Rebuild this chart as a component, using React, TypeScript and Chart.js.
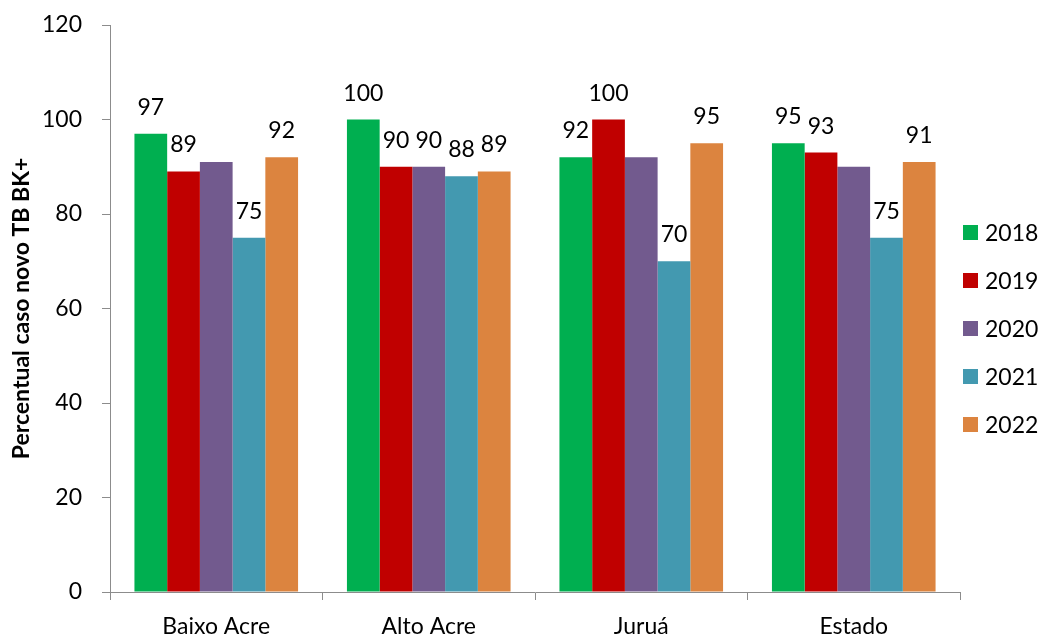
import React, { useEffect, useRef } from "react";
import { Chart, registerables } from "chart.js";

Chart.register(...registerables);

// Regions and years
const categories = ["Baixo Acre", "Alto Acre", "Juruá", "Estado"];
const years = ["2018", "2019", "2020", "2021", "2022"];

// Percentual de casos novos TB BK+ por ano
const values2018 = [97, 100, 92, 95];
const values2019 = [89, 90, 100, 93];
const values2020 = [91, 90, 92, 90];
const values2021 = [75, 88, 70, 75];
const values2022 = [92, 89, 95, 91];

// Which bars carry a value label
const labels2018 = [true, true, true, true];
const labels2019 = [true, true, true, true];
const labels2020 = [false, true, false, false];
const labels2021 = [true, true, true, true];
const labels2022 = [true, true, true, true];

const yTicks = [0, 20, 40, 60, 80, 100, 120];

const seriesValues = [values2018, values2019, values2020, values2021, values2022];
const seriesLabels = [labels2018, labels2019, labels2020, labels2021, labels2022];
const seriesColors = ["#00AF50", "#C00000", "#725A8E", "#4399B0", "#DC843F"];

const FONT = "Lato, 'Open Sans', sans-serif";

const valueLabels = {
  id: "valueLabels",
  afterDatasetsDraw(chart: any) {
    const ctx = chart.ctx;
    ctx.save();
    ctx.font = `23px ${FONT}`;
    ctx.fillStyle = "#000";
    ctx.textAlign = "center";
    ctx.textBaseline = "alphabetic";
    chart.data.datasets.forEach((ds: any, di: number) => {
      const meta = chart.getDatasetMeta(di);
      meta.data.forEach((bar: any, i: number) => {
        if (!seriesLabels[di][i]) return;
        ctx.fillText(String(ds.data[i]), bar.x, bar.y - 19);
      });
    });
    ctx.restore();
  },
};

const sideLegend = {
  id: "sideLegend",
  afterDraw(chart: any) {
    const ctx = chart.ctx;
    const area = chart.chartArea;
    const midY = (area.top + area.bottom) / 2 + 20;
    ctx.save();
    ctx.font = `23px ${FONT}`;
    ctx.textAlign = "left";
    ctx.textBaseline = "middle";
    years.forEach((y, i) => {
      const cy = midY + (i - 2) * 48;
      ctx.fillStyle = seriesColors[i];
      ctx.fillRect(area.right + 3, cy - 7.5, 15, 15);
      ctx.fillStyle = "#000";
      ctx.fillText(y, area.right + 25, cy + 1);
    });
    ctx.restore();
  },
};

export default function App() {
  const canvasRef = useRef<HTMLCanvasElement | null>(null);

  useEffect(() => {
    if (!canvasRef.current) return;
    const chart = new Chart(canvasRef.current, {
      type: "bar",
      data: {
        labels: categories,
        datasets: years.map((y, i) => ({
          label: y,
          data: seriesValues[i],
          backgroundColor: seriesColors[i],
          borderWidth: 0,
          barPercentage: 1,
          categoryPercentage: 0.77,
        })),
      },
      options: {
        responsive: false,
        animation: false,
        layout: { padding: { left: 0, right: 80, top: 25, bottom: 0 } },
        plugins: {
          legend: { display: false },
          tooltip: { enabled: false },
        },
        scales: {
          x: {
            grid: {
              drawOnChartArea: false,
              drawTicks: true,
              tickLength: 8,
              color: "#8C8C8C",
              offset: true,
            },
            border: { color: "#8C8C8C", width: 1 },
            ticks: {
              color: "#000",
              font: { family: FONT, size: 23 },
              padding: 13,
            },
            afterFit(scale: any) {
              scale.height = 45;
            },
          },
          y: {
            min: 0,
            max: 120,
            afterBuildTicks(scale: any) {
              scale.ticks = yTicks.map((v) => ({ value: v }));
            },
            grid: {
              drawOnChartArea: false,
              drawTicks: true,
              tickLength: 8,
              color: "#8C8C8C",
            },
            border: { color: "#8C8C8C", width: 1 },
            ticks: {
              color: "#000",
              font: { family: FONT, size: 23 },
              padding: 20,
            },
            title: {
              display: true,
              text: "Percentual caso novo TB BK+",
              color: "#000",
              font: { family: FONT, size: 23, weight: "bold" },
              padding: { top: 8, bottom: 4 },
            },
            afterFit(scale: any) {
              scale.width = 110;
              scale.paddingTop = 0;
              scale.paddingBottom = 0;
            },
          },
        },
      },
      plugins: [valueLabels, sideLegend],
    });
    return () => chart.destroy();
  }, []);

  return (
    <div style={{ position: "absolute", left: 0, top: 0, width: 1040, height: 637, background: "#fff" }}>
      <canvas ref={canvasRef} width={1040} height={637} />
    </div>
  );
}
